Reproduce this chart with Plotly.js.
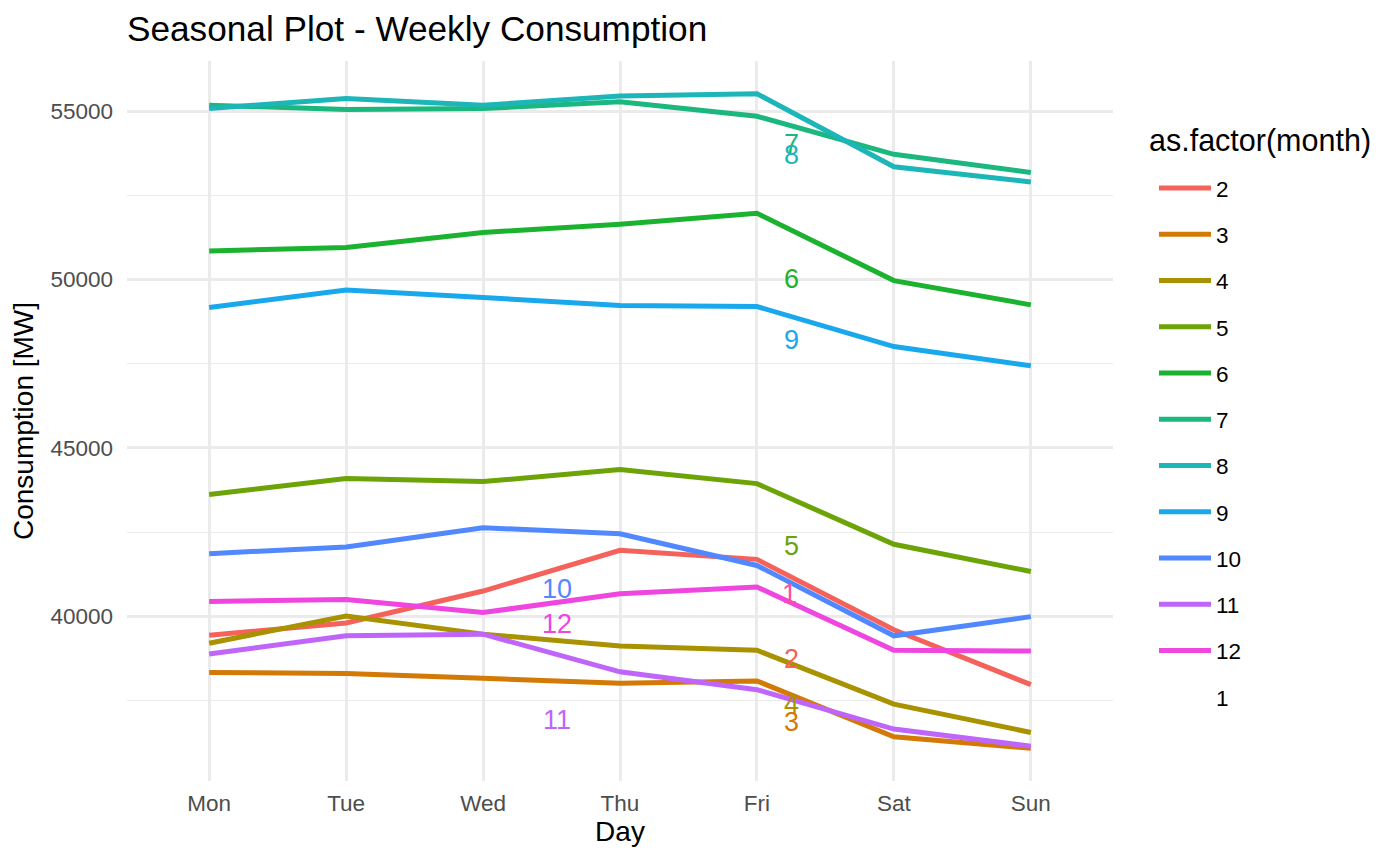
<!DOCTYPE html>
<html>
<head>
<meta charset="utf-8">
<script src="https://cdn.plot.ly/plotly-3.0.1.min.js"></script>
<style>html,body{margin:0;padding:0;background:#fff;}#chart{width:1400px;height:865px;}</style>
</head>
<body>
<div id="chart"></div>
<script>
// ---- data ----
const days = ["Mon", "Tue", "Wed", "Thu", "Fri", "Sat", "Sun"];
const months = ["2", "3", "4", "5", "6", "7", "8", "9", "10", "11", "12", "1"];
const m2  = [39440, 39800, 40750, 41960, 41690, 39600, 37970];
const m3  = [38330, 38300, 38160, 38010, 38080, 36420, 36080];
const m4  = [39200, 40010, 39470, 39120, 38990, 37390, 36550];
const m5  = [43620, 44090, 44000, 44360, 43940, 42140, 41330];
const m6  = [50850, 50950, 51400, 51640, 51970, 49970, 49250];
const m7  = [55180, 55050, 55080, 55280, 54850, 53720, 53180];
const m8  = [55080, 55380, 55180, 55450, 55520, 53350, 52900];
const m9  = [49170, 49690, 49470, 49230, 49200, 48010, 47440];
const m10 = [41860, 42060, 42630, 42450, 41510, 39420, 39990];
const m11 = [38880, 39420, 39470, 38350, 37820, 36650, 36140];
const m12 = [40440, 40500, 40110, 40670, 40870, 38990, 38970];
const m1  = [null, null, null, null, null, null, null];
const seriesValues = [m2, m3, m4, m5, m6, m7, m8, m9, m10, m11, m12, m1];
// month labels drawn inside the plot (day index, value)
const labelText = ["7", "8", "6", "9", "5", "1", "2", "4", "3", "10", "12", "11"];
const labelDay  = [4.25, 4.25, 4.25, 4.25, 4.25, 4.24, 4.25, 4.25, 4.25, 2.54, 2.54, 2.54];
const labelVal  = [54040, 53690, 50010, 48210, 42090, 40650, 38730, 37390, 36870, 40820, 39770, 36930];
const yTickVals = [40000, 45000, 50000, 55000];
const yTickText = ["40000", "45000", "50000", "55000"];

// ---- styles ----
const colors = {
  "2": "#F5625C", "3": "#D27A05", "4": "#A89200", "5": "#6CA306", "6": "#1BB22F",
  "7": "#1BB77E", "8": "#1CB5B8", "9": "#19A8EC", "10": "#5188FF", "11": "#BF65FA",
  "12": "#EE46DF", "1": "#F94FA6"
};
const FONT = "Liberation Sans, Arial, Helvetica, sans-serif";

const traces = months.map((m, i) => ({
  type: "scatter",
  mode: "lines",
  name: m,
  legendgroup: "g" + m,
  showlegend: true,
  x: days,
  y: seriesValues[i],
  line: { color: m === "1" ? "rgba(0,0,0,0)" : colors[m], width: m === "1" ? 0 : 5 },
  hoverinfo: "x+y+name"
}));

const allVals = seriesValues.flat().filter(v => v !== null);
const vmin = Math.min(...allVals), vmax = Math.max(...allVals);
const pad = (vmax - vmin) * 0.05;

const annotations = labelText.map((t, i) => ({
  x: labelDay[i], y: labelVal[i], xref: "x", yref: "y",
  text: t, showarrow: false, xanchor: "center", yanchor: "middle",
  font: { family: FONT, size: 27, color: colors[t] }
}));
annotations.push({
  x: 1.0345, y: 0.889, xref: "paper", yref: "paper",
  text: "as.factor(month)", showarrow: false, xanchor: "left", yanchor: "middle",
  font: { family: FONT, size: 30.5, color: "#000" }
});

const layout = {
  width: 1400, height: 865,
  paper_bgcolor: "#fff", plot_bgcolor: "#fff",
  margin: { l: 127, r: 287, t: 61, b: 84, pad: 0 },
  font: { family: FONT, color: "#000" },
  title: {
    text: "Seasonal Plot - Weekly Consumption",
    x: 127 / 1400, xref: "container", xanchor: "left",
    y: 1 - 29 / 865, yref: "container", yanchor: "middle",
    font: { family: FONT, size: 35.2, color: "#000" }
  },
  xaxis: {
    type: "category",
    categoryorder: "array", categoryarray: days,
    range: [-0.6, 6.6],
    showgrid: true, gridcolor: "#EBEBEB", gridwidth: 2.6,
    zeroline: false, showline: false, ticks: "",
    tickfont: { family: FONT, size: 22.5, color: "#4D4D4D" },
    ticklabelstandoff: 6,
    title: { text: "Day", font: { family: FONT, size: 28, color: "#000" }, standoff: 6 },
    automargin: false, fixedrange: true
  },
  yaxis: {
    range: [vmin - pad, vmax + pad],
    tickmode: "array", tickvals: yTickVals, ticktext: yTickText,
    showgrid: true, gridcolor: "#EBEBEB", gridwidth: 2.6,
    minor: { tickmode: "linear", tick0: 37500, dtick: 5000, showgrid: true, gridcolor: "#EBEBEB", gridwidth: 1.3, ticks: "" },
    zeroline: false, showline: false, ticks: "",
    tickfont: { family: FONT, size: 22.5, color: "#4D4D4D" },
    ticklabelstandoff: 13,
    title: { text: "Consumption [MW]", font: { family: FONT, size: 28, color: "#000" }, standoff: 8 },
    automargin: false, fixedrange: true
  },
  showlegend: true,
  legend: {
    x: (1154 - 127) / 986, xanchor: "left", xref: "paper",
    y: 0.8528, yanchor: "top", yref: "paper",
    traceorder: "grouped", tracegroupgap: 14,
    font: { family: FONT, size: 22.5, color: "#000" },
    bgcolor: "rgba(0,0,0,0)", borderwidth: 0,
    itemwidth: 52
  },
  annotations: annotations
};

Plotly.newPlot("chart", traces, layout, { displayModeBar: false });
</script>
</body>
</html>
